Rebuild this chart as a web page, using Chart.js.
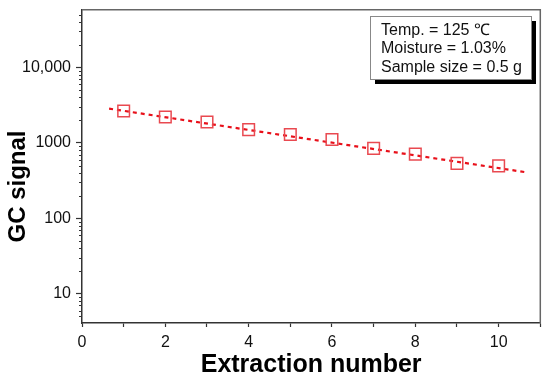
<!DOCTYPE html>
<html>
<head>
<meta charset="utf-8">
<script src="https://cdn.jsdelivr.net/npm/chart.js@4.4.1/dist/chart.umd.min.js"></script>
<style>
  html, body { margin: 0; padding: 0; background: #fff; }
  #wrap { width: 550px; height: 379px; position: relative; }
</style>
</head>
<body>
<div id="wrap"><canvas id="c" width="550" height="379"></canvas></div>
<script>
// ---- data ----
const extractionNumbers = [1, 2, 3, 4, 5, 6, 7, 8, 9, 10];
const gcSignal = [2640, 2200, 1890, 1500, 1290, 1110, 845, 710, 535, 495];
const fitX = [0.65, 10.68];
const fitY = [2844, 406];
const yTickValues = [10, 100, 1000, 10000];
const yTickLabels = ['10', '100', '1000', '10,000'];
const xTickValues = [0, 2, 4, 6, 8, 10];
const xTickLabels = ['0', '2', '4', '6', '8', '10'];
const infoLines = ['Temp. = 125 \u2103', 'Moisture = 1.03%', 'Sample size = 0.5 g'];
const xTitle = 'Extraction number';
const yTitle = 'GC signal';

const FONT = '"Liberation Sans", Arial, sans-serif';
const Y_MIN = 4.1, Y_MAX = 58200;

// all y tick positions (major + minor)
function yAllTicks() {
  const out = [];
  for (let e = 0; e <= 4; e++) {
    for (let m = 1; m <= 9; m++) {
      const v = m * Math.pow(10, e);
      if (v >= Y_MIN && v <= Y_MAX) out.push(v);
    }
  }
  return out;
}

const decorPlugin = {
  id: 'decor',
  afterDraw(chart) {
    const ctx = chart.ctx;
    const a = chart.chartArea;
    const ys = chart.scales.y;
    ctx.save();
    // top & right frame
    ctx.strokeStyle = '#666';
    ctx.lineWidth = 1.5;
    ctx.beginPath();
    ctx.moveTo(a.left, a.top);
    ctx.lineTo(a.right, a.top);
    ctx.lineTo(a.right, a.bottom);
    ctx.stroke();
    // minor y ticks
    ctx.strokeStyle = '#333';
    ctx.lineWidth = 1;
    yAllTicks().forEach(v => {
      if (yTickValues.includes(v)) return;
      const py = Math.round(ys.getPixelForValue(v)) + 0.5;
      ctx.beginPath();
      ctx.moveTo(a.left, py);
      ctx.lineTo(a.left - 3, py);
      ctx.stroke();
    });
    // info box with shadow
    const bx = 370, by = 16, bw = 161, bh = 63;
    ctx.fillStyle = '#000';
    ctx.fillRect(bx + 5, by + 5, bw, bh);
    ctx.fillStyle = '#fff';
    ctx.fillRect(bx, by, bw, bh);
    ctx.strokeStyle = '#888';
    ctx.lineWidth = 1;
    ctx.strokeRect(bx + 0.5, by + 0.5, bw, bh);
    ctx.fillStyle = '#111';
    ctx.font = '16px ' + FONT;
    ctx.textAlign = 'left';
    ctx.textBaseline = 'alphabetic';
    const baselines = [35, 53.3, 71.7];
    infoLines.forEach((t, i) => ctx.fillText(t, 381, baselines[i]));
    // axis titles
    ctx.fillStyle = '#000';
    ctx.font = 'bold 25px ' + FONT;
    ctx.textAlign = 'center';
    ctx.fillText(xTitle, (a.left + a.right) / 2, 372);
    ctx.font = 'bold 24px ' + FONT;
    ctx.translate(25, 186.5);
    ctx.rotate(-Math.PI / 2);
    ctx.fillText(yTitle, 0, 0);
    ctx.restore();
  }
};

new Chart(document.getElementById('c'), {
  type: 'scatter',
  data: {
    datasets: [
      {
        type: 'scatter',
        data: extractionNumbers.map((x, i) => ({ x: x, y: gcSignal[i] })),
        pointStyle: 'rect',
        pointRadius: 8.2,
        pointBorderWidth: 1.5,
        pointBorderColor: '#e94950',
        pointBackgroundColor: 'rgba(0,0,0,0)',
        showLine: false,
        order: 0
      },
      {
        type: 'line',
        data: fitX.map((x, i) => ({ x: x, y: fitY[i] })),
        borderColor: '#e8101a',
        borderWidth: 2.2,
        borderDash: [4, 4],
        pointRadius: 0,
        fill: false,
        order: 1
      }
    ]
  },
  options: {
    responsive: false,
    animation: false,
    devicePixelRatio: 1,
    layout: { padding: { top: 0, right: 8, left: 0, bottom: 0 } },
    plugins: { legend: { display: false }, tooltip: { enabled: false } },
    scales: {
      x: {
        type: 'linear',
        min: 0, max: 11,
        afterFit(s) { s.height = 56; },
        ticks: {
          stepSize: 1,
          color: '#111',
          font: { family: FONT, size: 16 },
          padding: 6,
          maxRotation: 0,
          autoSkip: false,
          callback(v) {
            const i = xTickValues.indexOf(v);
            return i >= 0 ? xTickLabels[i] : '';
          }
        },
        grid: { display: true, drawOnChartArea: false, drawTicks: true, tickLength: 4, tickColor: '#333', tickWidth: 1.2 },
        border: { display: true, color: '#333', width: 1.5 }
      },
      y: {
        type: 'logarithmic',
        min: Y_MIN, max: Y_MAX,
        bounds: 'data',
        afterFit(s) { s.width = 82; s.paddingTop = 9; },
        afterBuildTicks(s) { s.ticks = yAllTicks().map(v => ({ value: v })); },
        ticks: {
          color: '#111',
          font: { family: FONT, size: 16 },
          padding: 5,
          autoSkip: false,
          callback(v) {
            const i = yTickValues.indexOf(v);
            return i >= 0 ? yTickLabels[i] : '';
          }
        },
        grid: {
          display: true, drawOnChartArea: false, drawTicks: true, tickLength: 6, tickWidth: 1.2,
          tickColor(c) { return yTickValues.includes(c.tick && c.tick.value) ? '#333' : 'rgba(0,0,0,0)'; }
        },
        border: { display: true, color: '#333', width: 1.5 }
      }
    }
  },
  plugins: [decorPlugin]
});
</script>
</body>
</html>
